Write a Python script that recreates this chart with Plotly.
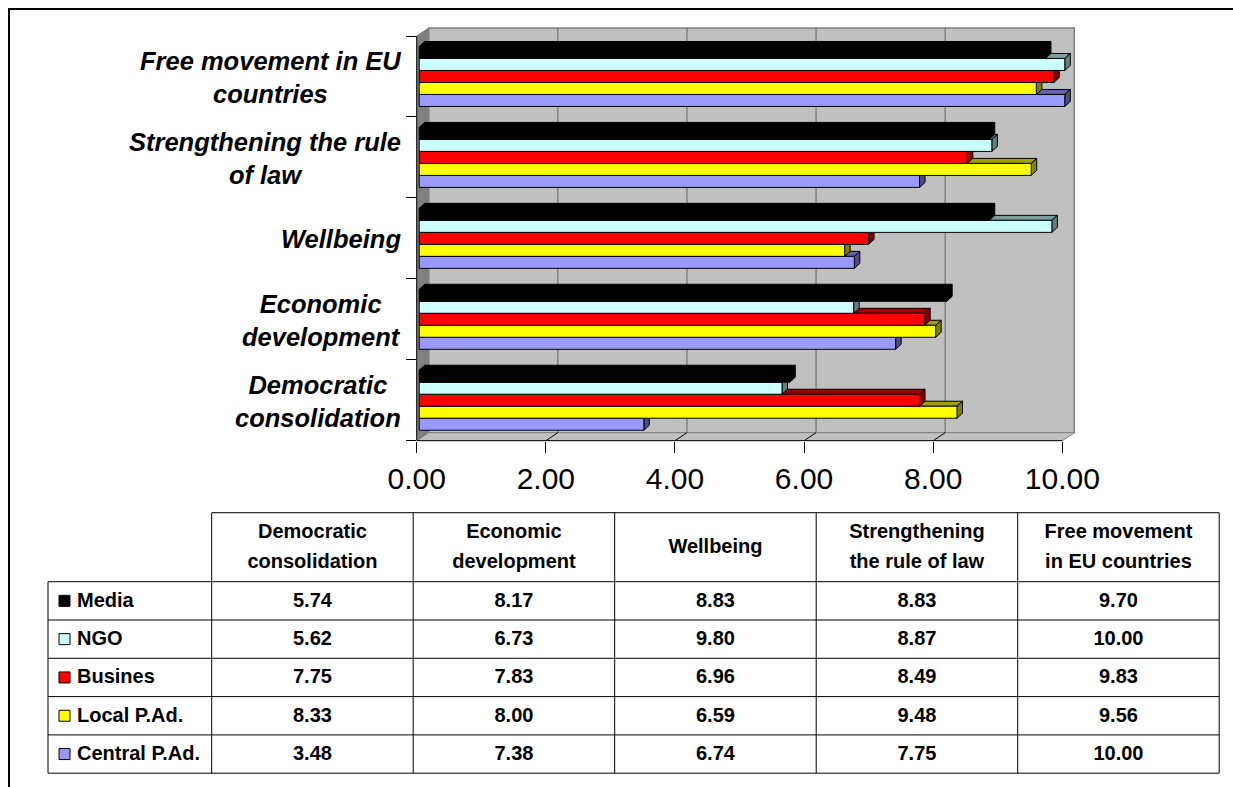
import plotly.graph_objects as go

# ---------------- data ----------------
categories = ["Democratic consolidation", "Economic development", "Wellbeing",
              "Strengthening the rule of law", "Free movement in EU countries"]
category_labels = ["Democratic<br>consolidation", "Economic<br>development", "Wellbeing",
                   "Strengthening the rule<br>of law", "Free movement in EU<br>countries"]
table_headers = [["Democratic", "consolidation"], ["Economic", "development"], ["Wellbeing"],
                 ["Strengthening", "the rule of law"], ["Free movement", "in EU countries"]]
series_names = ["Media", "NGO", "Busines", "Local P.Ad.", "Central P.Ad."]
media = [5.74, 8.17, 8.83, 8.83, 9.70]
ngo = [5.62, 6.73, 9.80, 8.87, 10.00]
busines = [7.75, 7.83, 6.96, 8.49, 9.83]
local_pad = [8.33, 8.00, 6.59, 9.48, 9.56]
central_pad = [3.48, 7.38, 6.74, 7.75, 10.00]
x_tick_values = [0, 2, 4, 6, 8, 10]
x_tick_labels = ["0.00", "2.00", "4.00", "6.00", "8.00", "10.00"]

series_values = [media, ngo, busines, local_pad, central_pad]
front_colors = ["#000000", "#CCFFFF", "#FF0000", "#FFFF00", "#9999FF"]
top_colors = ["#000000", "#7A9C9C", "#A00000", "#A0A000", "#6464A8"]
side_colors = ["#000000", "#668080", "#800000", "#808000", "#4D4D80"]

# ---------------- geometry (pixels) ----------------
W, H = 1233, 787
FX0, FX1 = 416.7, 1062.3          # front axis pixel position of 0 and 10
FY_TOP, FY_BOT = 36.0, 440.7      # front axis top / bottom
X_MAX = 10.0
n_cat = len(categories)
n_ser = len(series_names)
PX_X = (FX1 - FX0) / X_MAX
PX_Y = (FY_BOT - FY_TOP) / n_cat
PAD_R, PAD_T = 18, 12
x_range = [0, X_MAX + PAD_R / PX_X]
y_range = [-0.5, n_cat - 0.5 + PAD_T / PX_Y]
x_dom = [FX0 / W, (FX1 + PAD_R) / W]
y_dom = [1 - FY_BOT / H, 1 - (FY_TOP - PAD_T) / H]

WDX, WDY = 12.0 / PX_X, 8.0 / PX_Y      # wall depth
BDX, BDY = 5.5 / PX_X, 5.0 / PX_Y       # bar depth
BASE = 2.5 / PX_X
BAR_PX = 12.0
group_w = n_ser * BAR_PX / PX_Y
bar_w = group_w / n_ser
y_lo, y_hi = -0.5, n_cat - 0.5
positions = list(range(n_cat))

FONT = "Liberation Sans, Arial, sans-serif"

shapes = []
# back wall
shapes.append(dict(type="rect", xref="x", yref="y", x0=WDX, x1=X_MAX + WDX,
                   y0=y_lo + WDY, y1=y_hi + WDY, fillcolor="#C0C0C0",
                   line=dict(color="#808080", width=1.5), layer="below"))
# left side wall
shapes.append(dict(type="path", xref="x", yref="y",
                   path=f"M0,{y_lo} L{WDX},{y_lo + WDY} L{WDX},{y_hi + WDY} L0,{y_hi} Z",
                   fillcolor="#808080", line=dict(color="#808080", width=1), layer="below"))
# floor
shapes.append(dict(type="path", xref="x", yref="y",
                   path=f"M0,{y_lo} L{X_MAX},{y_lo} L{X_MAX + WDX},{y_lo + WDY} L{WDX},{y_lo + WDY} Z",
                   fillcolor="#C0C0C0", line=dict(color="#808080", width=1), layer="below"))
# gridlines on back wall and floor
for v in x_tick_values[1:-1]:
    shapes.append(dict(type="line", xref="x", yref="y", x0=v + WDX, x1=v + WDX,
                       y0=y_lo + WDY, y1=y_hi + WDY, line=dict(color="#707070", width=1.2),
                       layer="below"))
    shapes.append(dict(type="line", xref="x", yref="y", x0=v, x1=v + WDX,
                       y0=y_lo, y1=y_lo + WDY, line=dict(color="#000000", width=1),
                       layer="below"))

# 3D faces of bars (top and side), drawn bottom bar first
for c in range(n_cat):
    for j in range(n_ser):
        s = n_ser - 1 - j
        v = series_values[s][c]
        yb = positions[c] - group_w / 2 + j * bar_w
        yt = yb + bar_w
        x0, x1 = BASE, BASE + v
        shapes.append(dict(type="path", xref="x", yref="y",
                           path=f"M{x0},{yt} L{x0 + BDX},{yt + BDY} L{x1 + BDX},{yt + BDY} L{x1},{yt} Z",
                           fillcolor=top_colors[s], line=dict(color="#000000", width=1),
                           layer="below"))
        shapes.append(dict(type="path", xref="x", yref="y",
                           path=f"M{x1},{yb} L{x1 + BDX},{yb + BDY} L{x1 + BDX},{yt + BDY} L{x1},{yt} Z",
                           fillcolor=side_colors[s], line=dict(color="#000000", width=1),
                           layer="below"))

# front axis lines
shapes.append(dict(type="line", xref="x", yref="paper", x0=0, x1=X_MAX, y0=y_dom[0], y1=y_dom[0],
                   line=dict(color="#000000", width=1), layer="above"))
shapes.append(dict(type="line", xref="paper", yref="y", x0=x_dom[0], x1=x_dom[0], y0=y_lo, y1=y_hi,
                   line=dict(color="#000000", width=1), layer="above"))

fig = go.Figure()
for j in range(n_ser):
    s = n_ser - 1 - j
    fig.add_trace(go.Bar(
        orientation="h", y=positions, x=series_values[s], base=BASE,
        name=series_names[s], showlegend=False, hoverinfo="skip",
        marker=dict(color=front_colors[s], line=dict(color="#000000", width=1)),
    ))

# category labels
annotations = []
for c in range(n_cat):
    annotations.append(dict(xref="paper", yref="y", x=403 / W, y=positions[c], xanchor="right",
                            yanchor="middle", text=category_labels[c], align="center",
                            showarrow=False, yshift=-1,
                            font=dict(family=FONT, size=25.5, color="#000000",
                                      weight="bold", style="italic")))

# ---------------- data table (on a pixel-like helper axis pair x2/y2) ----------------
TABLE_X0 = 48.0
LABEL_COL_W = 163.7
VALUE_COL_W = 201.5
TABLE_Y0 = 512.7
HEADER_H = 69.0
ROW_H = 38.3
HEADER_LINE_GAP = 30.0
TXT_SIZE = 20

col_edges = [TABLE_X0, TABLE_X0 + LABEL_COL_W]
for c in range(n_cat):
    col_edges.append(col_edges[-1] + VALUE_COL_W)
row_edges = [TABLE_Y0, TABLE_Y0 + HEADER_H]
for i in range(n_ser):
    row_edges.append(row_edges[-1] + ROW_H)
TABLE_X1 = col_edges[-1]
TABLE_Y1 = row_edges[-1]

tx, ty, tt, tp = [], [], [], []
# header texts
for c in range(n_cat):
    cx = (col_edges[c + 1] + col_edges[c + 2]) / 2
    cy = (row_edges[0] + row_edges[1]) / 2
    lines = table_headers[c]
    for k, line in enumerate(lines):
        tx.append(cx)
        ty.append(cy + (k - (len(lines) - 1) / 2) * HEADER_LINE_GAP + 1)
        tt.append(f"<b>{line}</b>")
        tp.append("middle center")
# body
for i in range(n_ser):
    cy = (row_edges[i + 1] + row_edges[i + 2]) / 2 + 1
    tx.append(TABLE_X0 + 29)
    ty.append(cy)
    tt.append(f"<b>{series_names[i]}</b>")
    tp.append("middle right")
    for c in range(n_cat):
        tx.append((col_edges[c + 1] + col_edges[c + 2]) / 2)
        ty.append(cy)
        tt.append(f"<b>{series_values[i][c]:.2f}</b>")
        tp.append("middle center")

fig.add_trace(go.Scatter(
    x=tx, y=ty, text=tt, mode="text", textposition=tp, xaxis="x2", yaxis="y2",
    textfont=dict(family=FONT, size=TXT_SIZE, color="#000000"),
    showlegend=False, hoverinfo="skip", cliponaxis=False,
))

# table grid lines
tl = dict(color="#000000", width=1)
shapes.append(dict(type="line", xref="x2", yref="y2", x0=col_edges[1], x1=TABLE_X1,
                   y0=row_edges[0], y1=row_edges[0], line=tl, layer="above"))
for r in row_edges[1:]:
    shapes.append(dict(type="line", xref="x2", yref="y2", x0=TABLE_X0, x1=TABLE_X1,
                       y0=r, y1=r, line=tl, layer="above"))
shapes.append(dict(type="line", xref="x2", yref="y2", x0=TABLE_X0, x1=TABLE_X0,
                   y0=row_edges[1], y1=TABLE_Y1, line=tl, layer="above"))
for e in col_edges[1:]:
    shapes.append(dict(type="line", xref="x2", yref="y2", x0=e, x1=e,
                       y0=row_edges[0], y1=TABLE_Y1, line=tl, layer="above"))

# legend keys in the table
for i in range(n_ser):
    cy = (row_edges[i + 1] + row_edges[i + 2]) / 2
    shapes.append(dict(type="rect", xref="x2", yref="y2",
                       x0=TABLE_X0 + 11, x1=TABLE_X0 + 22, y0=cy - 5.5, y1=cy + 5.5,
                       fillcolor=front_colors[i], line=dict(color="#000000", width=1),
                       layer="above"))

# outer frame
shapes.append(dict(type="rect", xref="paper", yref="paper", x0=9 / W, x1=1.02, y0=-0.02,
                   y1=1 - 9 / H, line=dict(color="#000000", width=2), fillcolor="rgba(0,0,0,0)",
                   layer="above"))

fig.update_layout(
    width=W, height=H, margin=dict(l=0, r=0, t=0, b=0),
    paper_bgcolor="white", plot_bgcolor="rgba(0,0,0,0)",
    font=dict(family=FONT, color="#000000"),
    barmode="group", bargap=1 - group_w, bargroupgap=0,
    shapes=shapes, annotations=annotations,
    xaxis=dict(domain=x_dom, range=x_range, tickvals=x_tick_values, ticktext=x_tick_labels,
               ticks="outside", ticklen=11, tickcolor="#000000", tickwidth=1,
               showgrid=False, zeroline=False, showline=False, automargin=False,
               tickfont=dict(family=FONT, size=30, color="#000000"), fixedrange=True),
    yaxis=dict(domain=y_dom, range=y_range,
               tickvals=[p - 0.5 for p in positions] + [positions[-1] + 0.5],
               ticks="outside", ticklen=10, tickcolor="#000000", tickwidth=1,
               showticklabels=False, showgrid=False, zeroline=False, showline=False,
               automargin=False, fixedrange=True),
    xaxis2=dict(domain=[0, 1], range=[0, W], visible=False, anchor="y2", fixedrange=True),
    yaxis2=dict(domain=[0, 1], range=[H, 0], visible=False, anchor="x2", fixedrange=True),
)

fig.write_html("out.html")
